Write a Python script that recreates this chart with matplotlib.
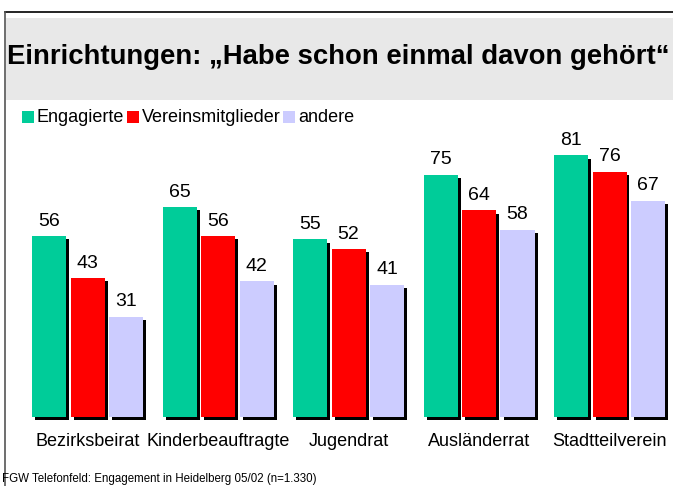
import matplotlib.pyplot as plt
from matplotlib.patches import Rectangle
from matplotlib.lines import Line2D

plt.rcParams['font.family'] = ['Liberation Sans', 'DejaVu Sans']

categories = ['Bezirksbeirat', 'Kinderbeauftragte', 'Jugendrat', 'Ausländerrat', 'Stadtteilverein']
series = ['Engagierte', 'Vereinsmitglieder', 'andere']
engagierte = [56, 65, 55, 75, 81]
vereinsmitglieder = [43, 56, 52, 64, 76]
andere = [31, 42, 41, 58, 67]
colors = ['#00CC99', '#FF0000', '#CCCCFF']

title = 'Einrichtungen: \u201eHabe schon einmal davon geh\u00f6rt\u201c'
source = 'FGW Telefonfeld: Engagement in Heidelberg 05/02 (n=1.330)'

W, H = 673, 486
fig = plt.figure(figsize=(W / 100, H / 100), dpi=100)

# frame and title band
fig.add_artist(Line2D([5 / W, 1], [1 - 12 / H, 1 - 12 / H], color='black', lw=1.2))
fig.add_artist(Line2D([5 / W, 5 / W], [0, 1 - 12 / H], color='#555555', lw=1.2))
fig.add_artist(Rectangle((6 / W, 1 - 100 / H), 1, 82 / H, color='#E8E8E8', lw=0))
fig.text(7 / W, 1 - 57 / H, title, fontsize=19.8, fontweight='bold', va='center', ha='left')

# legend drawn by hand
leg_x = [22, 127, 283]
for x0, name, c in zip(leg_x, series, colors):
    fig.add_artist(Rectangle((x0 / W, 1 - 123 / H), 12 / W, 12 / H, color=c, lw=0))
    fig.text((x0 + 15) / W, 1 - 117 / H, name, fontsize=13, va='center', ha='left')

ax = fig.add_axes([0, (H - 417) / H, 1, 323 / H])
ax.set_xlim(-87.5 / 130.5, (W - 87.5) / 130.5)
ax.set_ylim(0, 100)
ax.axis('off')

bw = 34 / 130.5
step = 38.5 / 130.5
sx = 3 / 130.5
sy = 1.0
for k, (vals, c) in enumerate(zip([engagierte, vereinsmitglieder, andere], colors)):
    xs = [i + (k - 1) * step for i in range(len(categories))]
    ax.bar([x + sx for x in xs], vals, width=bw, bottom=-sy, color='black', zorder=1, clip_on=False)
    ax.bar(xs, vals, width=bw, color=c, zorder=2, clip_on=False)
    for x, v in zip(xs, vals):
        ax.text(x, v + 2.0, str(v), ha='center', va='bottom', fontsize=14)

for i, cat in enumerate(categories):
    ax.text(i, -7.5, cat, ha='center', va='center', fontsize=13)

fig.text(2 / W, 1 - 479 / H, source, fontsize=8.3, va='center', ha='left')

fig.savefig('out.png', dpi=100)
